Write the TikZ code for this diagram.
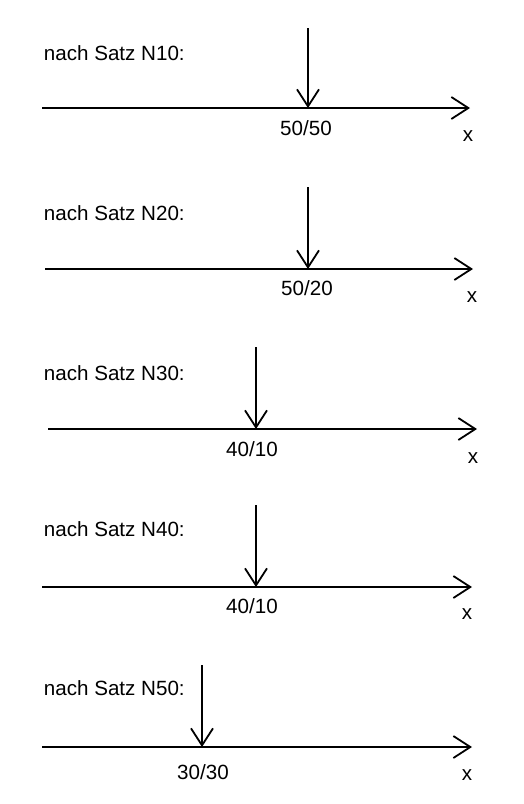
\documentclass[tikz,border=0pt]{standalone}
\usepackage{fontspec}
\setmainfont{Liberation Sans}
\usetikzlibrary{arrows.meta}
\begin{document}
\begin{tikzpicture}[x=1pt, y=-1pt, line width=1.8pt,
  axis/.style={-{Straight Barb[length=17pt,width=22pt]}},
  mark arrow/.style={-{Straight Barb[length=17pt,width=22pt]}},
  txt/.style={inner sep=0pt, font=\fontsize{20.6}{24}\selectfont}]
\useasboundingbox (0,0) rectangle (524,804);
%axes
\coordinate (A1) at (42,108);  \coordinate (B1) at (470,108);
\coordinate (A2) at (45,269);  \coordinate (B2) at (473,269);
\coordinate (A3) at (48,429);  \coordinate (B3) at (477,429);
\coordinate (A4) at (42,587);  \coordinate (B4) at (472,587);
\coordinate (A5) at (42,747);  \coordinate (B5) at (472,747);
%position arrows
\coordinate (T1) at (308,28);  \coordinate (P1) at (308,108);
\coordinate (T2) at (308,187); \coordinate (P2) at (308,269);
\coordinate (T3) at (256,347); \coordinate (P3) at (256,429);
\coordinate (T4) at (256,505); \coordinate (P4) at (256,587);
\coordinate (T5) at (202,665); \coordinate (P5) at (202,747);
%draw axes
\draw [axis] (A1) -- (B1);
\draw [axis] (A2) -- (B2);
\draw [axis] (A3) -- (B3);
\draw [axis] (A4) -- (B4);
\draw [axis] (A5) -- (B5);
%draw position arrows
\draw [mark arrow] (T1) -- (P1);
\draw [mark arrow] (T2) -- (P2);
\draw [mark arrow] (T3) -- (P3);
\draw [mark arrow] (T4) -- (P4);
\draw [mark arrow] (T5) -- (P5);
%block labels
\node [txt, anchor=west] (S1) at (43,53) {nach Satz N10:};
\node [txt, anchor=west] (S2) at (43,213) {nach Satz N20:};
\node [txt, anchor=west] (S3) at (43,373) {nach Satz N30:};
\node [txt, anchor=west] (S4) at (43,529) {nach Satz N40:};
\node [txt, anchor=west] (S5) at (43,688) {nach Satz N50:};
%position values
\node [txt] (V1) at (306,128) {50/50};
\node [txt] (V2) at (307,288) {50/20};
\node [txt] (V3) at (252,449) {40/10};
\node [txt] (V4) at (252,606) {40/10};
\node [txt] (V5) at (203,772) {30/30};
%axis names
\node [txt] (X1) at (468,136) {x};
\node [txt] (X2) at (472,297) {x};
\node [txt] (X3) at (473,458) {x};
\node [txt] (X4) at (467,614) {x};
\node [txt] (X5) at (467,775) {x};
\end{tikzpicture}
\end{document}
